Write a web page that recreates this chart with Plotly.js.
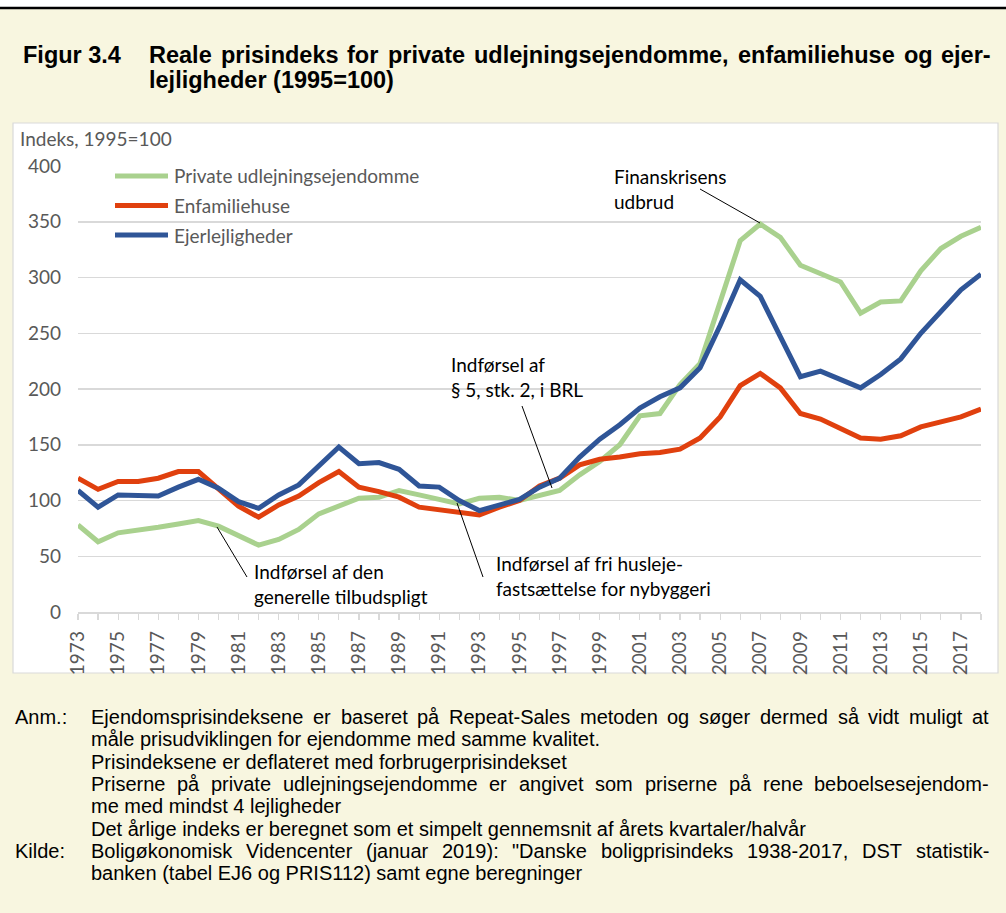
<!DOCTYPE html>
<html><head><meta charset="utf-8">
<script src="https://cdn.plot.ly/plotly-3.0.1.min.js"></script>
<style>html,body{margin:0;padding:0;background:#ffffff;} #chart{width:1006px;height:913px;}</style>
</head><body><div id="chart"></div>
<script>
// ---------- data ----------
const years = [1973,1974,1975,1976,1977,1978,1979,1980,1981,1982,1983,1984,1985,1986,1987,1988,1989,1990,1991,1992,1993,1994,1995,1996,1997,1998,1999,2000,2001,2002,2003,2004,2005,2006,2007,2008,2009,2010,2011,2012,2013,2014,2015,2016,2017,2018];
const privateUdlejning = [78,63,71,73,76,79,82,77,69,60,65,74,88,95,102,103,109,105,101,97,102,103,100,105,109,123,135,150,176,178,204,223,278,333,348,336,311,304,296,268,278,279,306,326,337,345];
const enfamiliehuse = [120,110,117,117,120,126,126,111,95,85,96,104,116,126,112,108,103,94,92,89,87,94,100,113,120,132,137,139,142,143,146,156,175,203,214,201,178,173,165,156,155,158,166,170,175,182];
const ejerlejligheder = [109,94,105,104,104,112,119,111,99,93,105,114,131,148,133,134,128,113,112,100,91,96,101,112,120,139,155,168,183,193,201,219,257,298,283,247,211,216,208,201,213,227,250,270,289,303];
const seriesNames = ['Private udlejningsejendomme','Enfamiliehuse','Ejerlejligheder'];
const seriesColors = ['#A9D18E','#E0400E','#2F5597'];
const xTickYears = [1973,1975,1977,1979,1981,1983,1985,1987,1989,1991,1993,1995,1997,1999,2001,2003,2005,2007,2009,2011,2013,2015,2017];
const yTickValues = [0,50,100,150,200,250,300,350,400];
const yAxisTitle = 'Indeks, 1995=100';
const figLabel = 'Figur 3.4';
const titleLines = ['Reale prisindeks for private udlejningsejendomme, enfamiliehuse og ejer-','lejligheder (1995=100)'];
const chartNotes = [
  {lines:['Finanskrisens','udbrud'], px:613, py:189, from:[700,189], to:[760,223]},
  {lines:['Indførsel af','§ 5, stk. 2, i BRL'], px:450, py:377, from:[522,406], to:[552,488]},
  {lines:['Indførsel af fri husleje-','fastsættelse for nybyggeri'], px:495, py:576, from:[483,577], to:[457,503]},
  {lines:['Indførsel af den','generelle tilbudspligt'], px:253, py:584, from:[247,577], to:[217,527]}
];
const noteRows = [
  {label:'Anm.:', text:'Ejendomsprisindeksene er baseret på Repeat-Sales metoden og søger dermed så vidt muligt at', justify:true},
  {label:'', text:'måle prisudviklingen for ejendomme med samme kvalitet.', justify:false},
  {label:'', text:'Prisindeksene er deflateret med forbrugerprisindekset', justify:false},
  {label:'', text:'Priserne på private udlejningsejendomme er angivet som priserne på rene beboelsesejendom-', justify:true},
  {label:'', text:'me med mindst 4 lejligheder', justify:false},
  {label:'', text:'Det årlige indeks er beregnet som et simpelt gennemsnit af årets kvartaler/halvår', justify:false},
  {label:'Kilde:', text:'Boligøkonomisk Videncenter (januar 2019): "Danske boligprisindeks 1938-2017, DST statistik-', justify:true},
  {label:'', text:'banken (tabel EJ6 og PRIS112) samt egne beregninger', justify:false}
];

// ---------- geometry helpers ----------
const W = 1006, H = 913, L = 78, R = 981, T = 166, B = 612;
const fx = p => (p - L) / (R - L);
const fy = p => (B - p) / (B - T);
const chartFont = 'Lato, "Open Sans", sans-serif';
const docFont = '"Liberation Sans", Arial, sans-serif';

const canvas = document.createElement('canvas');
const ctx = canvas.getContext('2d');
function measure(text, size, bold) {
  ctx.font = (bold ? 'bold ' : '') + size + 'px "Liberation Sans"';
  return ctx.measureText(text).width;
}

const annotations = [];
const shapes = [];

function textAt(text, x, y, size, bold, anchor) {
  annotations.push({
    xref:'paper', yref:'paper', x:fx(x), y:fy(y), xanchor:anchor || 'left', yanchor:'middle',
    text: bold ? '<b>' + text + '</b>' : text, showarrow:false, borderpad:0,
    font:{family:docFont, size:size, color:'#000000'}
  });
}
function justifiedLine(text, x0, x1, y, size, bold) {
  const words = text.split(' ');
  const widths = words.map(w => measure(w, size, bold));
  const total = widths.reduce((a, b) => a + b, 0);
  const gap = (x1 - x0 - total) / (words.length - 1);
  let x = x0;
  words.forEach((w, i) => { textAt(w, x, y, size, bold); x += widths[i] + gap; });
}

// background pieces
shapes.push({type:'rect', xref:'paper', yref:'paper', x0:fx(0), x1:fx(W), y0:fy(0), y1:fy(7), fillcolor:'#ffffff', line:{width:0}, layer:'below'});
shapes.push({type:'line', xref:'paper', yref:'paper', x0:fx(0), x1:fx(W), y0:fy(8), y1:fy(8), line:{color:'#000000', width:2.5}, layer:'below'});
shapes.push({type:'rect', xref:'paper', yref:'paper', x0:fx(13), x1:fx(998), y0:fy(673), y1:fy(123), fillcolor:'#ffffff', line:{color:'#D9D9D9', width:1.2}, layer:'below'});

// title
textAt(figLabel, 22, 55, 23.5, true);
justifiedLine(titleLines[0], 148, 990, 55, 23.5, true);
textAt(titleLines[1], 148, 80, 23.5, true);

// notes
noteRows.forEach((row, i) => {
  const y = 717 + i * 22.35;
  if (row.label) textAt(row.label, 14, y, 20, false);
  if (row.justify) justifiedLine(row.text, 90, 988, y, 20, false);
  else textAt(row.text, 90, y, 20, false);
});

// y axis title
annotations.push({xref:'paper', yref:'paper', x:fx(19), y:fy(139), xanchor:'left', yanchor:'middle',
  text:yAxisTitle, showarrow:false, borderpad:0, font:{family:chartFont, size:19, color:'#595959'}});

// legend (drawn inside the plot, Excel style)
const legendRowsY = [176, 205.5, 235];
seriesNames.forEach((name, i) => {
  shapes.push({type:'line', xref:'paper', yref:'paper', x0:fx(115), x1:fx(168), y0:fy(legendRowsY[i]), y1:fy(legendRowsY[i]),
    line:{color:seriesColors[i], width:5}});
  annotations.push({xref:'paper', yref:'paper', x:fx(173), y:fy(legendRowsY[i]), xanchor:'left', yanchor:'middle',
    text:name, showarrow:false, borderpad:0, font:{family:chartFont, size:19, color:'#595959'}});
});

// chart annotations + leader lines
chartNotes.forEach(n => {
  annotations.push({xref:'paper', yref:'paper', x:fx(n.px), y:fy(n.py), xanchor:'left', yanchor:'middle', align:'left',
    text:n.lines.join('<br>'), showarrow:false, borderpad:0, font:{family:chartFont, size:19, color:'#000000'}});
  shapes.push({type:'line', xref:'paper', yref:'paper', x0:fx(n.from[0]), y0:fy(n.from[1]), x1:fx(n.to[0]), y1:fy(n.to[1]),
    line:{color:'#000000', width:1}});
});

const seriesValues = [privateUdlejning, enfamiliehuse, ejerlejligheder];
const traces = seriesNames.map((name, i) => ({
  x: years, y: seriesValues[i], name: name, type:'scatter', mode:'lines',
  line:{color:seriesColors[i], width:5, shape:'linear'}, hoverinfo:'x+y+name'
}));

const layout = {
  width:W, height:H,
  margin:{l:L, r:W - R, t:T, b:H - B},
  paper_bgcolor:'#F8F6E0', plot_bgcolor:'rgba(0,0,0,0)',
  showlegend:false,
  xaxis:{range:[1973, 2018], tickmode:'array', tickvals:xTickYears, ticktext:xTickYears.map(String),
    tickangle:-90, ticks:'outside', ticklen:6, tickcolor:'#D9D9D9', tickwidth:1.2,
    minor:{tickmode:'linear', tick0:1973, dtick:1, ticks:'outside', ticklen:6, tickcolor:'#D9D9D9', tickwidth:1.2},
    showline:true, linecolor:'#D9D9D9', linewidth:1.5, showgrid:false, zeroline:false, fixedrange:true,
    tickfont:{family:chartFont, size:19, color:'#595959'}, ticklabelstandoff:4},
  yaxis:{range:[0, 400], tickmode:'array', tickvals:yTickValues, ticks:'', showline:false, zeroline:false,
    gridcolor:'#D9D9D9', gridwidth:1.5, fixedrange:true,
    tickfont:{family:chartFont, size:19, color:'#595959'}, ticklabelstandoff:16},
  annotations:annotations, shapes:shapes
};

Plotly.newPlot('chart', traces, layout, {displayModeBar:false, staticPlot:true});
</script></body></html>
